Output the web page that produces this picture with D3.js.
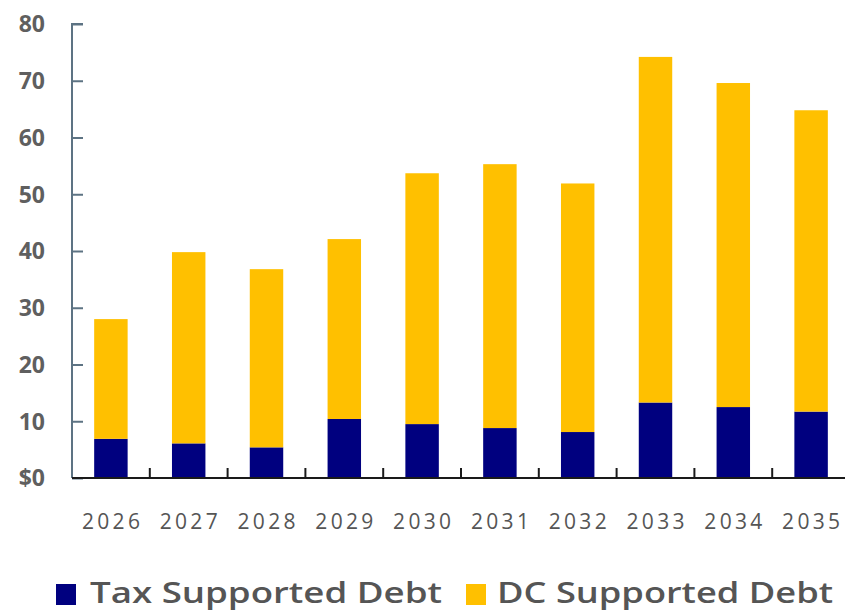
<!DOCTYPE html>
<html>
<head>
<meta charset="utf-8">
<script src="https://cdn.jsdelivr.net/npm/d3@7"></script>
<style>
  html, body { margin: 0; padding: 0; background: #fff; }
  svg { display: block; }
</style>
</head>
<body>
<svg id="chart" width="845" height="613"></svg>
<script>
// Debt by year, in $ billions
const years = ["2026", "2027", "2028", "2029", "2030", "2031", "2032", "2033", "2034", "2035"];
const taxSupported = [6.9, 6.1, 5.4, 10.4, 9.5, 8.8, 8.1, 13.3, 12.5, 11.7];
const dcSupported = [21.1, 33.7, 31.4, 31.7, 44.2, 46.5, 43.8, 60.9, 57.1, 53.1];
const yTicks = [0, 10, 20, 30, 40, 50, 60, 70, 80];
const seriesNames = ["Tax Supported Debt", "DC Supported Debt"];
const seriesKeys = ["tax", "dc"];
const seriesColors = ["#00007f", "#ffc000"];

const rows = years.map((yr, i) => ({ year: yr, tax: taxSupported[i], dc: dcSupported[i] }));
const stacked = d3.stack().keys(seriesKeys)(rows);

const svg = d3.select("#chart");
const plotLeft = 72, plotBottom = 478, plotTop = 24, plotRight = 850;

const x = d3.scaleBand().domain(years).range([plotLeft, plotRight]).padding(0);
const y = d3.scaleLinear().domain([0, 80]).range([plotBottom, plotTop]);
const barFrac = 0.43;
const barW = x.bandwidth() * barFrac;

// Stacked bars
svg.append("g").selectAll("g")
  .data(stacked)
  .join("g")
  .attr("fill", (d, i) => seriesColors[i])
  .selectAll("rect")
  .data(d => d)
  .join("rect")
  .attr("x", d => x(d.data.year) + (x.bandwidth() - barW) / 2)
  .attr("width", barW)
  .attr("y", d => y(d[1]))
  .attr("height", d => y(d[0]) - y(d[1]));

// Y axis: ticks point inward
const yAxis = svg.append("g")
  .attr("transform", `translate(${plotLeft},0)`)
  .call(d3.axisRight(y).tickValues(yTicks).tickSize(11).tickFormat(""));
yAxis.select(".domain").attr("d", `M11,${plotTop}H0V${plotBottom}`).attr("stroke", "#5d7383").attr("stroke-width", 2);
yAxis.selectAll(".tick line").attr("stroke", "#5d7383").attr("stroke-width", 2);

// Y tick labels
svg.append("g").selectAll("text")
  .data(yTicks)
  .join("text")
  .attr("x", 45)
  .attr("y", d => y(d))
  .attr("dy", "0.36em")
  .attr("text-anchor", "end")
  .attr("font-family", "Open Sans, sans-serif")
  .attr("font-weight", 700)
  .attr("font-size", 23)
  .attr("fill", "#5f5f5f")
  .text(d => d === 0 ? "$0" : d);

// X axis: category boundary ticks pointing up
const xAxis = svg.append("g")
  .attr("transform", `translate(0,${plotBottom})`);
xAxis.append("line")
  .attr("x1", plotLeft).attr("x2", 845)
  .attr("stroke", "#1a1a1a").attr("stroke-width", 2);
xAxis.selectAll("line.b")
  .data(years.slice(1))
  .join("line")
  .attr("class", "b")
  .attr("x1", d => x(d)).attr("x2", d => x(d))
  .attr("y1", 0).attr("y2", -10)
  .attr("stroke", "#1a1a1a").attr("stroke-width", 2);

// X labels
svg.append("g").selectAll("text")
  .data(years)
  .join("text")
  .attr("x", d => x(d) + x.bandwidth() / 2)
  .attr("y", 529)
  .attr("text-anchor", "middle")
  .attr("font-family", "Open Sans, sans-serif")
  .attr("font-size", 21)
  .attr("fill", "#555")
  .attr("textLength", 58)
  .attr("lengthAdjust", "spacing")
  .text(d => d);

// Legend
const legend = svg.append("g");
const legendItems = [
  { sx: 56, tx: 90, w: 352 },
  { sx: 466, tx: 497, w: 336 }
];
legendItems.forEach((it, i) => {
  legend.append("rect")
    .attr("x", it.sx).attr("y", 584)
    .attr("width", 20).attr("height", 21)
    .attr("fill", seriesColors[i]);
  legend.append("text")
    .attr("x", it.tx).attr("y", 603)
    .attr("font-family", "Open Sans, sans-serif")
    .attr("font-weight", 600)
    .attr("font-size", 28)
    .attr("fill", "#555")
    .attr("textLength", it.w)
    .attr("lengthAdjust", "spacingAndGlyphs")
    .text(seriesNames[i]);
});
</script>
</body>
</html>
